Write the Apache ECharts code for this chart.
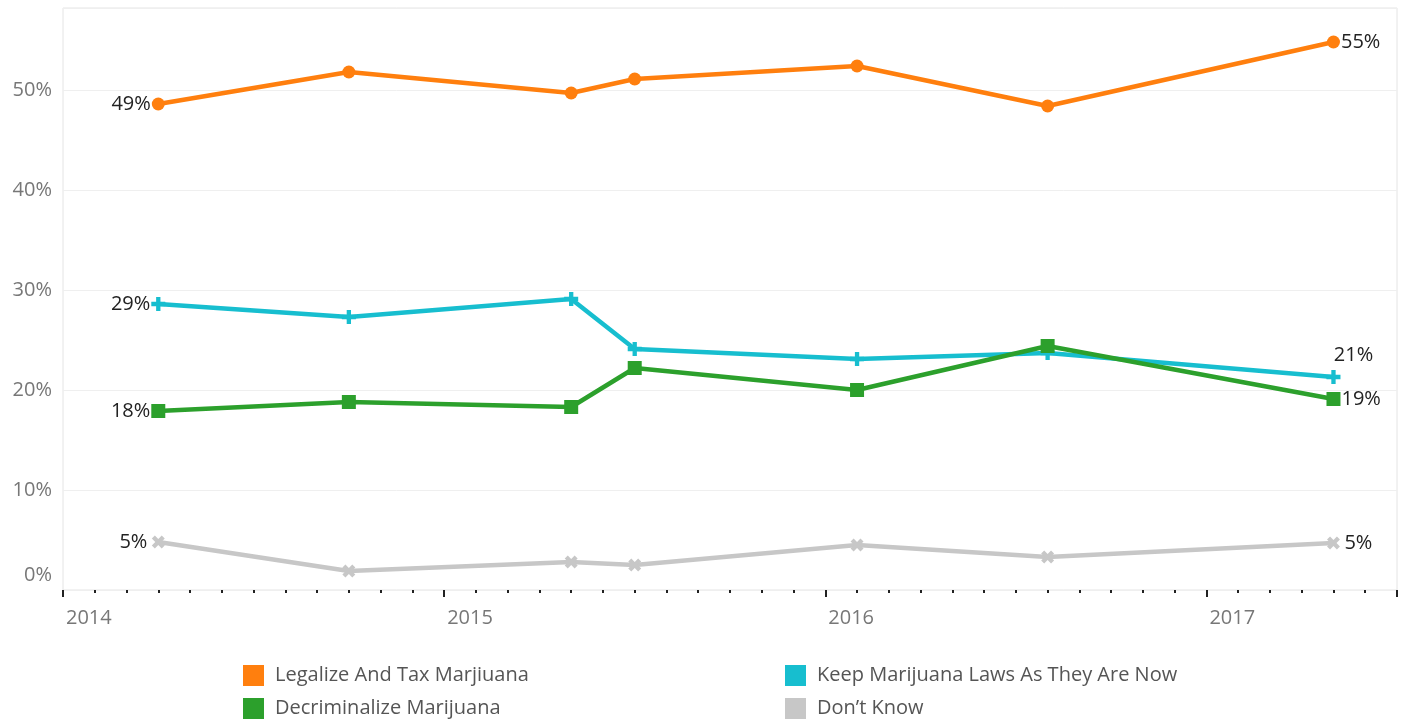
<!DOCTYPE html>
<html>
<head>
  <meta charset="UTF-8">
  <title>Marijuana policy opinion</title>
  <script src="https://cdn.jsdelivr.net/npm/echarts@6/dist/echarts.min.js"></script>
  <style>
    html, body { margin: 0; padding: 0; background: #fff; }
    #main { width: 1408px; height: 721px; }
  </style>
</head>
<body>
<div id="main"></div>
<script type="text/javascript">
  // survey dates (year-month) and shares in %
  var dates = ['2014-04', '2014-10', '2015-05', '2015-07', '2016-02', '2016-08', '2017-05'];
  var legalize = [48.6, 51.8, 49.7, 51.1, 52.4, 48.4, 54.8];
  var keepLaws = [28.6, 27.3, 29.1, 24.1, 23.1, 23.7, 21.3];
  var decrim = [17.9, 18.8, 18.3, 22.2, 20.0, 24.4, 19.1];
  var dontKnow = [4.8, 1.9, 2.8, 2.5, 4.5, 3.3, 4.7];
  var names = ['Legalize And Tax Marjiuana', 'Keep Marijuana Laws As They Are Now', 'Decriminalize Marijuana', 'Don\u2019t Know'];

  var myChart = echarts.init(document.getElementById('main'));
  var font = '"Open Sans", "Noto Sans", sans-serif';

  // date string -> decimal year so the axis can tick by year / month
  function toYear(d) {
    var p = d.split('-');
    return +p[0] + (+p[1] - 1) / 12;
  }

  var plus = 'path://M-2,-6.5 h4 v4.5 h4.5 v4 h-4.5 v4.5 h-4 v-4.5 h-4.5 v-4 h4.5 z';

  var labelFont = { color: '#222', fontSize: 20, fontFamily: font };

  function makeSeries(name, values, color, symbol, size, rotate, firstLabel, lastLabel) {
    var data = values.map(function (v, i) {
      var item = { value: [toYear(dates[i]), v] };
      if (i === 0) item.label = Object.assign({ show: true }, labelFont, firstLabel);
      if (i === values.length - 1) item.label = Object.assign({ show: true }, labelFont, lastLabel);
      return item;
    });
    return {
      name: name,
      type: 'line',
      data: data,
      symbol: symbol,
      symbolSize: size,
      symbolRotate: rotate,
      symbolKeepAspect: true,
      showAllSymbol: true,
      z: 3,
      lineStyle: { color: color, width: 4.5 },
      itemStyle: { color: color },
      label: {
        show: false,
        formatter: function (p) { return Math.round(p.value[1]) + '%'; }
      },
      emphasis: { disabled: true },
      animation: false
    };
  }

  var legendBase = {
    orient: 'vertical',
    top: 665, padding: 0,
    icon: 'rect', itemWidth: 21, itemHeight: 21, itemGap: 12,
    textStyle: { color: '#555', fontSize: 20, fontFamily: font, padding: [0, 0, 0, 6] }
  };

  var option = {
    animation: false,
    grid: {
      left: 63, right: 11, top: 8, bottom: 131,
      show: true, borderColor: '#e4e4e4', borderWidth: 1
    },
    legend: [
      Object.assign({ data: [names[0], names[2]], left: 243 }, legendBase),
      Object.assign({ data: [names[1], names[3]], left: 785 }, legendBase)
    ],
    xAxis: {
      type: 'value',
      min: 2014, max: 2017.5, interval: 1,
      axisLine: { show: false },
      axisTick: { show: true, length: 7, lineStyle: { color: '#222', width: 2 } },
      minorTick: { show: true, splitNumber: 12, length: 3, lineStyle: { color: '#222', width: 2 } },
      splitLine: { show: false },
      axisLabel: {
        align: 'left', margin: 18, showMaxLabel: false,
        color: '#777', fontSize: 20, fontFamily: font, padding: [0, 0, 0, 3],
        formatter: function (v) { return String(Math.round(v)); }
      }
    },
    yAxis: {
      type: 'value',
      min: 0, max: 58.2, interval: 10,
      axisLine: { show: false },
      axisTick: { show: false },
      splitLine: { lineStyle: { color: '#efefef', width: 1 } },
      axisLabel: {
        margin: 11, showMaxLabel: false,
        color: '#777', fontSize: 20, fontFamily: font,
        formatter: function (v) { return v === 0 ? '{z|0%}' : v + '%'; },
        rich: { z: { color: '#777', fontSize: 20, fontFamily: font, padding: [0, 0, 30, 0] } }
      }
    },
    series: [
      makeSeries(names[0], legalize, '#ff7f0e', 'circle', 13, 0,
        { position: 'left', distance: 1 }, { position: 'right', distance: 1 }),
      makeSeries(names[1], keepLaws, '#17becf', plus, 14, 0,
        { position: 'left', distance: 1 }, { position: 'top', distance: 5, offset: [20, 0] }),
      makeSeries(names[2], decrim, '#2ca02c', 'rect', 14, 0,
        { position: 'left', distance: 1 }, { position: 'right', distance: 1 }),
      makeSeries(names[3], dontKnow, '#c7c7c7', plus, 14, 45,
        { position: 'left', distance: 1 }, { position: 'right', distance: 1 })
    ]
  };

  myChart.setOption(option);
</script>
</body>
</html>
